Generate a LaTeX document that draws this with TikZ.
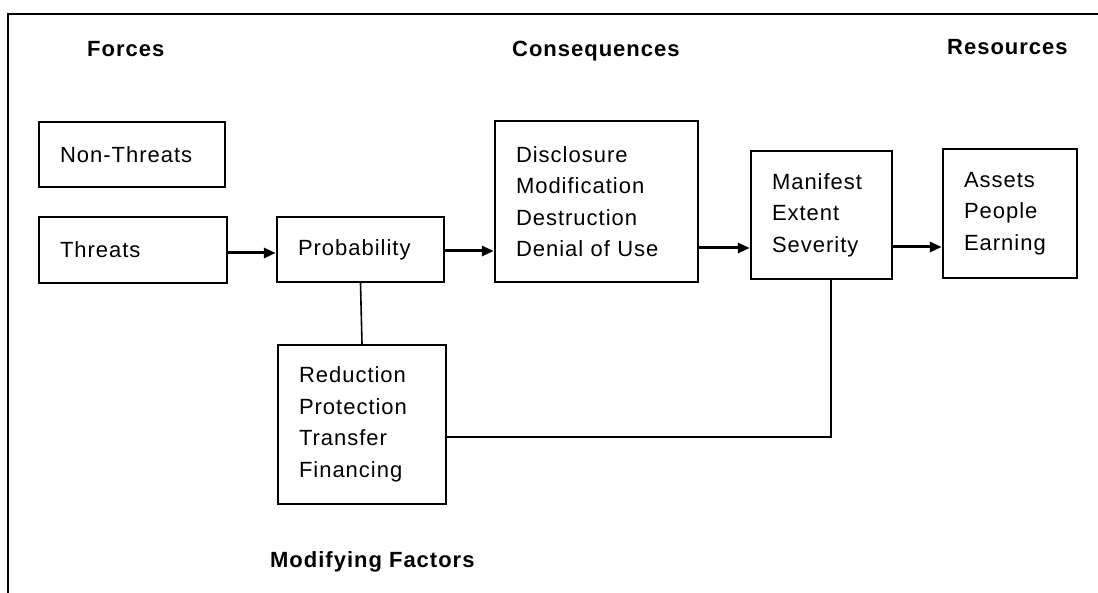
\documentclass[tikz,border=0pt]{standalone}
\usepackage{fontspec}
\setmainfont{Liberation Sans}[LetterSpace=4.5]
\usetikzlibrary{arrows.meta}
\begin{document}
\begin{tikzpicture}[x=1pt,y=-1pt,
  every node/.style={font=\fontsize{22}{31.5}\selectfont},
  box/.style={draw,line width=2.4pt,rectangle,inner xsep=21pt,inner ysep=0pt,align=left},
  title/.style={anchor=base west,inner sep=0pt,font=\fontsize{22}{26}\selectfont\bfseries},
  arr/.style={line width=3pt,-{Triangle[length=12pt,width=10pt]}},
  thin/.style={line width=1.6pt},
  frame/.style={line width=2.6pt}]
\useasboundingbox (0,0) rectangle (1098,593);
% frame
\draw[frame] (8,593) -- (8,14) -- (1098,14);
% titles
\node[title] (tforces) at (87,57) {Forces};
\node[title] (tcons) at (512,57) {Consequences};
\node[title] (tres) at (947,55) {Resources};
\node[title] (tmod) at (270,567) {Modifying Factors};
% boxes
\node[box,minimum width=186pt,minimum height=65pt,text width=144pt] (nonthreats) at (132,154.5) {Non-Threats};
\node[box,minimum width=188pt,minimum height=66pt,text width=146pt] (threats) at (133,250) {Threats};
\node[box,minimum width=167pt,minimum height=65pt,text width=125pt] (prob) at (360.5,249.5) {Probability};
\node[box,minimum width=203pt,minimum height=161pt,text width=161pt] (cons) at (596.5,201.5) {Disclosure\\Modification\\Destruction\\Denial of Use};
\node[box,minimum width=141pt,minimum height=128pt,text width=99pt] (manifest) at (821.5,215) {Manifest\\Extent\\Severity};
\node[box,minimum width=134pt,minimum height=129pt,text width=92pt] (assets) at (1010,213.5) {Assets\\People\\Earning};
\node[box,minimum width=168pt,minimum height=159pt,text width=126pt] (red) at (362,424.5) {Reduction\\Protection\\Transfer\\Financing};
% connector levels
\coordinate (a1) at (250,253);
\coordinate (a2) at (470,251);
\coordinate (a3) at (720,248);
\coordinate (a4) at (915,247);
\coordinate (c1) at (831,437);
% arrows
\draw[arr] (threats.east |- a1) -- (prob.west |- a1);
\draw[arr] (prob.east |- a2) -- (cons.west |- a2);
\draw[arr] (cons.east |- a3) -- (manifest.west |- a3);
\draw[arr] (manifest.east |- a4) -- (assets.west |- a4);
% thin lines
\draw[thin] (prob.south) -- (red.north);
\draw[thin] (manifest.south -| c1) -- (c1) -- (red.east |- c1);
\end{tikzpicture}
\end{document}
